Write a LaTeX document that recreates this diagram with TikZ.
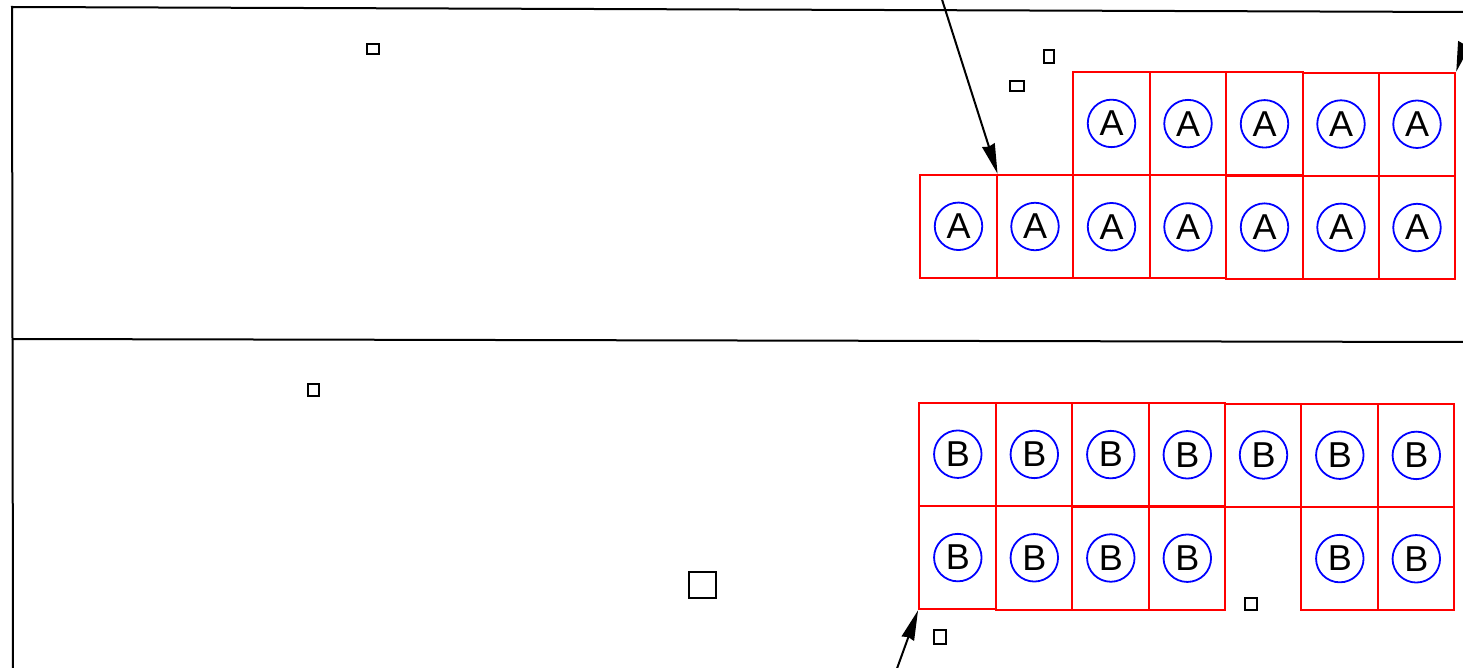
\documentclass[tikz,border=0pt]{standalone}
\usepackage{fontspec}
\setmainfont{Liberation Sans}
\usetikzlibrary{arrows.meta}
\definecolor{cellred}{RGB}{255,0,0}
\definecolor{ringblue}{RGB}{0,0,255}
\tikzset{
  frameline/.style={draw=black,line width=2pt},
  cellbox/.style={draw=cellred,line width=2pt,rectangle,minimum width=76.5pt,minimum height=103pt,inner sep=0pt},
  ring/.style={draw=ringblue,line width=1.8pt,circle,minimum size=47.5pt,inner sep=0pt,font=\fontsize{36}{36}\selectfont,text=black},
  smallsq/.style={draw=black,line width=2.2pt,rectangle,inner sep=0pt},
  pointer/.style={draw=black,line width=2pt,-{Stealth[length=30pt,width=13pt,inset=1.5pt]}}
}
\begin{document}
\begin{tikzpicture}[x=1pt,y=-1pt]
\useasboundingbox (0,0) rectangle (1463,668);
\clip (0,0) rectangle (1463,668);
% frame
\coordinate (tl) at (12,7);
\coordinate (tr) at (1464,12);
\coordinate (ml) at (12,339);
\coordinate (mr) at (1464,342);
\coordinate (bl) at (13,669);
\draw[frameline] (tr) -- (tl) -- (bl);
\draw[frameline] (ml) -- (mr);
% A cells
\foreach \n/\x in {3/1111.5,4/1188,5/1264.5,6/1341,7/1417}{
  \node[cellbox] (at\n) at (\x,{122.9+0.0027*(\x-920)}) {};
}
\foreach \n/\x in {1/958.3,2/1035,3/1111.5,4/1188,5/1264.5,6/1341,7/1417}{
  \node[cellbox] (ab\n) at (\x,{226.2+0.0027*(\x-920)}) {};
}
\foreach \n/\x in {3/1111.5,4/1188,5/1264.5,6/1341,7/1417}{
  \node[ring] (rat\n) at (\x,{122.9+0.0027*(\x-920)}) {A};
}
\foreach \n/\x in {1/958.5,2/1035,3/1111.5,4/1188,5/1264.5,6/1341,7/1417}{
  \node[ring] (rab\n) at (\x,{226.2+0.0027*(\x-920)}) {A};
}
% B cells
\foreach \n/\x in {1/957.3,2/1033.8,3/1110.3,4/1186.8,5/1263,6/1339.3,7/1415.8}{
  \node[cellbox] (bt\n) at (\x,{454.3+0.0026*(\x-920)}) {};
  \node[ring] (rbt\n) at ({\x+0.5},{454.1+0.0026*(\x-920)}) {B};
}
\foreach \n/\x in {1/957.3,2/1033.8,3/1110.3,4/1186.8,6/1339.3,7/1415.8}{
  \node[cellbox] (bb\n) at (\x,{557.7+0.0026*(\x-920)}) {};
  \node[ring] (rbb\n) at ({\x+0.5},{557.5+0.0026*(\x-920)}) {B};
}
% small squares
\node[smallsq,minimum width=11.5pt,minimum height=10.5pt] (s1) at (373,49) {};
\node[smallsq,minimum width=10.5pt,minimum height=12.5pt] (s2) at (1049,56.5) {};
\node[smallsq,minimum width=13.5pt,minimum height=10.5pt] (s3) at (1017,86) {};
\node[smallsq,minimum width=10.5pt,minimum height=11.5pt] (s4) at (313.5,390) {};
\node[smallsq,minimum width=27pt,minimum height=26pt] (s5) at (702.5,585) {};
\node[smallsq,minimum width=11.5pt,minimum height=11.5pt] (s6) at (1251,604) {};
\node[smallsq,minimum width=11.5pt,minimum height=14pt] (s7) at (940,637) {};
% pointers
\coordinate (p1) at (941.5,-2);
\coordinate (p2) at (1473,13);
\coordinate (p3) at (895,674);
\draw[pointer] (p1) -- (ab1.north east);
\draw[pointer] (p2) -- (at7.north east);
\draw[pointer] (p3) -- (bb1.south west);
\end{tikzpicture}
\end{document}
